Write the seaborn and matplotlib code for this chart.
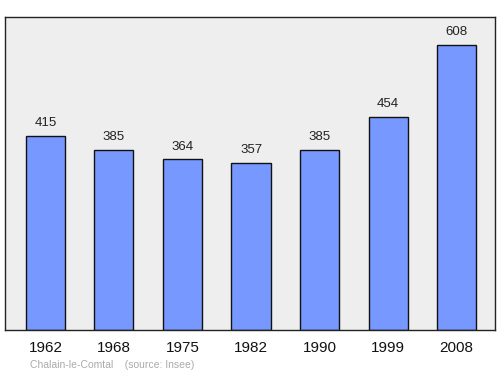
import matplotlib
matplotlib.use("Agg")
import matplotlib.pyplot as plt
import seaborn as sns
import pandas as pd

years = ["1962", "1968", "1975", "1982", "1990", "1999", "2008"]
population = [415, 385, 364, 357, 385, 454, 608]

sns.set_style("white")
plt.rcParams['font.family'] = ['Liberation Sans', 'DejaVu Sans']

df = pd.DataFrame({"year": years, "pop": population})

fig = plt.figure(figsize=(5, 3.74), dpi=100)
ax = fig.add_axes([0.01, 0.1176, 0.98, 0.8369])
ax.set_facecolor("#eeeeee")
sns.barplot(data=df, x="year", y="pop", color="#7799ff", saturation=1,
            width=0.57, edgecolor="#111111", linewidth=1, ax=ax)
ax.set_xlim(-0.59, 6.56)
ax.set_ylim(0, 668)
for i, v in enumerate(population):
    ax.annotate(str(v), (i, v), xytext=(0, 5), textcoords="offset points",
                ha="center", va="bottom", fontsize=9.5, color="#222222")
ax.set_yticks([])
ax.set_xlabel("")
ax.set_ylabel("")
ax.tick_params(axis="x", length=0, labelsize=11, pad=8, colors="#111111")
for s in ax.spines.values():
    s.set_color("#222222")
    s.set_linewidth(1)
fig.text(0.06, 0.012, "Chalain-le-Comtal    (source: Insee)", fontsize=7.5,
         color="#aaaaaa", ha="left", va="bottom")
fig.savefig("out.png", dpi=100)
